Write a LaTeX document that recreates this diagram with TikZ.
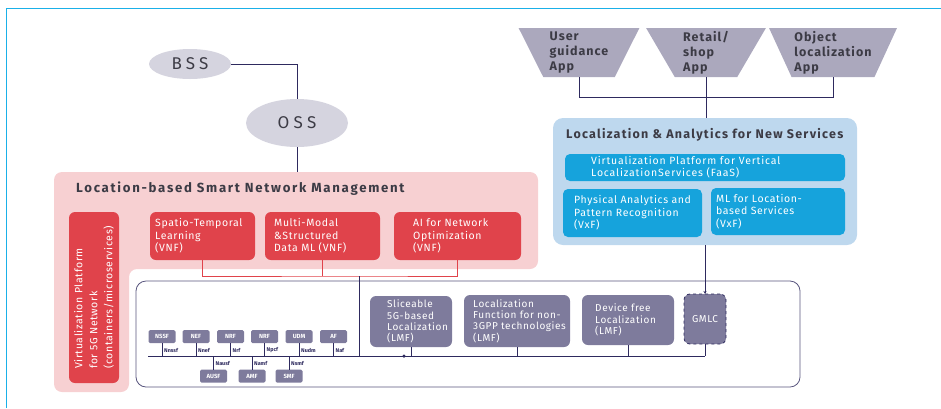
\documentclass[tikz,border=0pt]{standalone}
\usepackage{fontspec}
\setmainfont{Fira Sans}
\newfontfamily\lsfont[LetterSpace=6]{Fira Sans}
\usetikzlibrary{shapes.geometric,arrows.meta,calc}
\definecolor{framec}{HTML}{1AB0E8}
\definecolor{pinkbg}{HTML}{F7D0D2}
\definecolor{vred}{HTML}{E0434B}
\definecolor{navy}{HTML}{2E2A5E}
\definecolor{nfgray}{HTML}{7E7B9C}
\definecolor{appgray}{HTML}{ABA8BD}
\definecolor{lblue}{HTML}{BED8EE}
\definecolor{vblue}{HTML}{16A3DC}
\definecolor{ellg}{HTML}{D5D4DF}
\definecolor{ttl}{HTML}{3C3B45}
\tikzset{
  lnk/.style={draw=navy, line width=0.8pt},
  redln/.style={draw=vred, line width=0.8pt},
  shp/.style={inner sep=0pt, outer sep=0pt},
  redbox/.style={shp, fill=vred, rounded corners=6pt},
  graybox/.style={shp, fill=nfgray, rounded corners=6pt},
  bluebox/.style={shp, fill=vblue, rounded corners=5pt},
  wtxt/.style={inner sep=0pt, anchor=west, align=left, text=white},
  vnftxt/.style={wtxt, font=\lsfont\fontsize{10.5}{12.5}\selectfont},
  lmftxt/.style={wtxt, font=\lsfont\fontsize{10}{11.3}\selectfont},
  vxftxt/.style={wtxt, font=\lsfont\fontsize{10.5}{12.5}\selectfont},
  nf/.style={shp, fill=nfgray, rounded corners=1.5pt, minimum width=27pt, minimum height=13pt, text=white, font=\bfseries\fontsize{6}{7}\selectfont},
  nflab/.style={inner sep=0pt, anchor=west, text=navy, font=\bfseries\fontsize{5.4}{6}\selectfont},
  app/.style={trapezium, trapezium stretches=true, shape border rotate=180, trapezium left angle=64, trapezium right angle=64, fill=appgray, inner sep=0pt, minimum height=49pt, align=left, text=ttl, font=\lsfont\addfontfeatures{LetterSpace=8}\bfseries\fontsize{12.5}{15}\selectfont},
  ell/.style={ellipse, fill=ellg, inner sep=0pt, text=ttl, font=\lsfont\addfontfeatures{LetterSpace=25}\fontsize{17}{20}\selectfont},
  ttltxt/.style={inner sep=0pt, anchor=west, text=ttl}
}
\begin{document}
\begin{tikzpicture}[x=1pt,y=-1pt]
\useasboundingbox (0,0) rectangle (941,408);
% frame
\draw[framec, line width=1pt] (941,8) -- (6,8) -- (6,408);

% pink region
\fill[pinkbg, rounded corners=8pt] (54,172) -- (538,172) -- (538,269) -- (129,269) -- (129,392) -- (54,392) -- cycle;
\coordinate (pinktop) at (297,172);
\node[ttltxt, font=\lsfont\addfontfeatures{LetterSpace=13}\bfseries\fontsize{13.2}{15}\selectfont] (lbt) at (76,189) {Location-based Smart Network Management};

% 5G box
\node[shp, draw=navy!80, line width=0.8pt, rounded corners=10pt, minimum width=664pt, minimum height=106pt] (fg) at (468,334) {};

% BSS / OSS
\node[ell, minimum width=82pt, minimum height=30pt] (bss) at (190,64) {BSS};
\node[ell, minimum width=102pt, minimum height=48pt] (oss) at (297,123) {OSS};
\draw[lnk] (bss.east) -| (oss.north);
\draw[lnk] (oss.south) -- (pinktop);

% virtualization platform
\node[redbox, minimum width=50pt, minimum height=171pt] (vp) at (94,297.5) {};
\node[rotate=90, inner sep=0pt, align=left, text=white, font=\lsfont\fontsize{10.5}{15}\selectfont] (vpt) at (vp.center) {Virtualization Platform\\for 5G Network\\(containers/microservices)};

% VNF boxes
\node[redbox, minimum width=105pt, minimum height=48pt] (st) at (202.5,236) {};
\node[vnftxt] (stt) at ($(st.west)+(5,0)$) {Spatio-Temporal\\Learning\\(VNF)};
\node[redbox, minimum width=115pt, minimum height=48pt] (mm) at (322.5,236) {};
\node[vnftxt] (mmt) at ($(mm.west)+(9,0)$) {Multi-Modal\\\&Structured\\Data ML (VNF)};
\node[redbox, minimum width=127pt, minimum height=48pt] (ai) at (457.5,236) {};
\node[vnftxt] (ait) at ($(ai.west)+(19,0)$) {AI for Network\\Optimization\\(VNF)};

\coordinate (rj) at (359,276);
\draw[redln] (st.south) |- (rj) -| (ai.south);
\draw[redln] (mm.south) -- (mm.south |- rj);

% bus
\coordinate (busL) at (148,356);
\node[graybox, draw=navy, dashed, line width=0.8pt, minimum width=42pt, minimum height=50pt, text=white, font=\lsfont\fontsize{10}{11}\selectfont] (gm) at (705,319) {GMLC};
\draw[lnk] (busL) -- (busL -| gm.south);
\draw[lnk] (rj) -- (rj |- busL);
\draw[lnk] (gm.south) -- (gm.south |- busL);

% NF boxes
\node[nf] (nssf) at (162,336.5) {NSSF};
\node[nf] (nef) at (196,336.5) {NEF};
\node[nf] (nrf) at (230.5,336.5) {NRF};
\node[nf] (npcf) at (264.5,336.5) {NRF};
\node[nf] (udm) at (299,336.5) {UDM};
\node[nf] (af) at (333.5,336.5) {AF};
\node[nf] (ausf) at (213.5,376) {AUSF};
\node[nf] (amf) at (252,376) {AMF};
\node[nf] (smf) at (289,376) {SMF};
\foreach \n/\l in {nssf/Nnssf, nef/Nnef, nrf/Nrf, npcf/Npcf, udm/Nudm, af/Naf}{
  \draw[lnk, line width=0.7pt] (\n.south) -- (\n.south |- busL);
  \node[nflab] (l-\n) at ($(\n.south)+(2,7)$) {\l};
}
\foreach \n/\l in {ausf/Nausf, amf/Namf, smf/Nsmf}{
  \draw[lnk, line width=0.7pt] (\n.north) -- (\n.north |- busL);
  \node[nflab] (l-\n) at ($(\n.north)+(2,-6)$) {\l};
}

% LMF boxes
\node[graybox, minimum width=82pt, minimum height=51pt] (sl) at (411,321.5) {};
\node[lmftxt] (slt) at ($(sl.west)+(17,0)$) {Sliceable\\5G-based\\Localization\\(LMF)};
\node[graybox, minimum width=106pt, minimum height=52pt] (lf) at (517,321) {};
\node[lmftxt] (lft) at ($(lf.west)+(9,0)$) {Localization\\Function for non-\\3GPP technologies\\(LMF)};
\node[graybox, minimum width=92pt, minimum height=50pt] (df) at (628,320) {};
\node[lmftxt] (dft) at ($(df.west)+(13,0)$) {Device free\\Localization\\(LMF)};
\draw[lnk] (sl.south) -- (sl.south |- busL);
\draw[lnk] (lf.south) -- (lf.south |- busL);
\draw[lnk] (df.south) -- (df.south |- busL);
\node[circle, fill=navy, inner sep=0pt, minimum size=3.5pt] (jd) at (404,356) {};

% Localization & Analytics
\node[shp, fill=lblue, rounded corners=10pt, minimum width=304pt, minimum height=127pt] (la) at (705,181.5) {};
\node[ttltxt, font=\lsfont\addfontfeatures{LetterSpace=10}\bfseries\fontsize{12.5}{15}\selectfont] (lat) at (566,135) {Localization \& Analytics for New Services};
\node[bluebox, minimum width=280pt, minimum height=27pt] (fa) at (705,167.5) {};
\node[wtxt, font=\lsfont\addfontfeatures{LetterSpace=8}\fontsize{10.5}{12}\selectfont] (fat) at ($(fa.west)+(26,0)$) {Virtualization Platform for Vertical\\LocalizationServices (FaaS)};
\node[bluebox, minimum width=139pt, minimum height=48pt] (pa) at (632.5,213) {};
\node[vxftxt] (pat) at ($(pa.west)+(11,0)$) {Physical Analytics and\\Pattern Recognition\\(VxF)};
\node[bluebox, minimum width=134pt, minimum height=47pt] (ml) at (778,211.5) {};
\node[vxftxt] (mlt) at ($(ml.west)+(5,0)$) {ML for Location-\\based Services\\(VxF)};
\draw[lnk, -{Stealth[length=3pt,width=3pt]}] (gm.north |- la.south) -- (gm.north);

% apps
\node[app, minimum width=122pt] (ug) at (579,52.5) {User\\guidance\\App};
\node[app, minimum width=120pt] (rs) at (706,52.5) {Retail/\\shop\\App};
\node[app, minimum width=128pt] (ob) at (833,52.5) {Object\\localization\\App};
\draw[lnk] (ug.south) -- ++(0,20) -| (ob.south);
\draw[lnk] (rs.south) -- (rs.south |- la.north);
\end{tikzpicture}
\end{document}
